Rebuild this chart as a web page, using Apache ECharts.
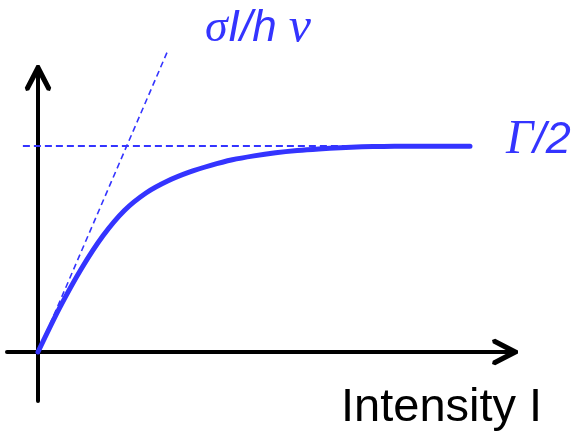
<!DOCTYPE html>
<html><head><meta charset="utf-8">
<script src="https://cdn.jsdelivr.net/npm/echarts@6/dist/echarts.min.js"></script>
<style>html,body{margin:0;padding:0;background:#fff}#c{width:576px;height:440px}</style>
</head><body><div id="c"></div>
<script>
// Curve: rate vs intensity (arbitrary units; saturation level Γ/2 = 1)
const intensity = [0, 0.5, 1, 1.5, 2, 2.5, 3, 3.5, 4, 4.5, 5, 5.5, 6, 6.5, 7, 7.5, 8, 8.5, 9, 9.5, 10];
const rate      = [0, 0.214, 0.403, 0.563, 0.687, 0.772, 0.830, 0.873, 0.906, 0.933, 0.952, 0.967, 0.978, 0.986, 0.992, 0.996, 0.998, 0.999, 0.999, 0.999, 0.999];
// Low-intensity tangent σI/hν
const tangentX = [0, 2.99];
const tangentY = [0, 1.456];
// Saturation level Γ/2
const plateauX = [-0.35, 10];
const plateauY = [1, 1];
const xAxisTitle = 'Intensity I';

const blue = '#3434ff';
const chevron = 'path://M-1.5,-3 L1.5,-3 L13.2,19.8 L12,23 L8.8,22.2 L0,5.5 L-8.8,22.2 L-12,23 L-13.2,19.8 Z';
const zip = (a, b) => a.map((v, i) => [v, b[i]]);

const axisCommon = {
  type: 'value',
  axisTick: {show: false},
  axisLabel: {show: false},
  splitLine: {show: false},
  axisLine: {
    onZero: true,
    lineStyle: {color: '#000', width: 4},
    symbol: ['none', chevron],
    symbolSize: [26.4, 26],
    symbolOffset: [0, -10]
  }
};

const chart = echarts.init(document.getElementById('c'), null, {renderer: 'canvas'});
chart.setOption({
  animation: false,
  grid: {left: 7, right: 61, top: 68, bottom: 39},
  xAxis: Object.assign({}, axisCommon, {min: -31 / 43.2, max: 477 / 43.2}),
  yAxis: Object.assign({}, axisCommon, {min: -49 / 206, max: 284 / 206}),
  graphic: [
    {type: 'text', x: 205, y: 4, z: 10, style: {
      text: '{g|σ}{s|I/h }{n|ν}',
      fill: blue,
      rich: {
        g: {fontFamily: 'Liberation Serif', fontStyle: 'italic', fontSize: 46, fill: blue},
        n: {fontFamily: 'Liberation Serif', fontStyle: 'italic', fontSize: 50, fill: blue},
        s: {fontFamily: 'Liberation Sans', fontStyle: 'italic', fontSize: 44, fill: blue}
      }
    }},
    {type: 'text', x: 506, y: 116, z: 10, style: {
      text: '{g|Γ}{s|/2}',
      fill: blue,
      rich: {
        g: {fontFamily: 'Liberation Serif', fontStyle: 'italic', fontSize: 48, fill: blue},
        s: {fontFamily: 'Liberation Sans', fontStyle: 'italic', fontSize: 45, fill: blue}
      }
    }},
    {type: 'text', x: 341, y: 385, z: 10, style: {
      text: xAxisTitle, fill: '#000',
      font: '47px "Liberation Sans"'
    }}
  ],
  series: [
    {type: 'line', data: zip(plateauX, plateauY), showSymbol: false, silent: true, clip: false,
      lineStyle: {color: blue, width: 1.8, type: [7, 4]}, z: 2},
    {type: 'line', data: zip(tangentX, tangentY), showSymbol: false, silent: true, clip: false,
      lineStyle: {color: blue, width: 1.6, type: [6, 4]}, z: 2},
    {type: 'line', data: zip(intensity, rate), showSymbol: false, silent: true, clip: false,
      smooth: 0.3,
      lineStyle: {color: blue, width: 5, cap: 'round'}, z: 3}
  ]
});
</script></body></html>
